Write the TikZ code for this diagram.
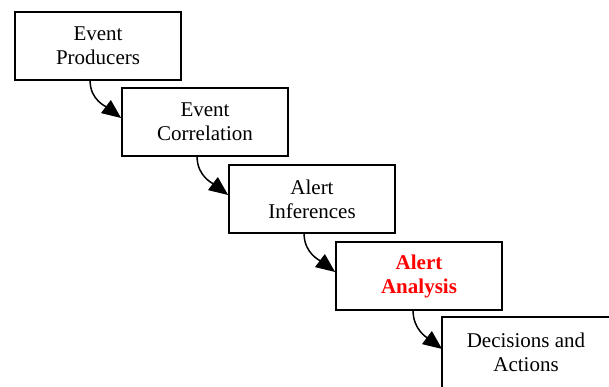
\documentclass[tikz,border=0pt]{standalone}
\usepackage{fontspec}
\setmainfont{Liberation Serif}
\usetikzlibrary{arrows.meta}
\tikzset{
  stagebox/.style={draw=black, line width=1.8pt, fill=white, minimum width=166pt, minimum height=68pt,
    align=center, inner sep=2pt, font=\fontsize{21}{24}\selectfont},
  flowarrow/.style={line width=1.5pt, -{Triangle[length=19pt,width=16pt]}}
}
\begin{document}
\begin{tikzpicture}[x=1pt,y=1pt]
\useasboundingbox (0,0) rectangle (609,386);
\clip (0,0) rectangle (609,386);
\node[stagebox] (b1) at (98,340) {Event\\Producers};
\node[stagebox] (b2) at (205,264) {Event\\Correlation};
\node[stagebox] (b3) at (312,187) {Alert\\Inferences};
\node[stagebox, text=red, font=\fontsize{21}{24}\selectfont\bfseries] (b4) at (419,110) {Alert\\Analysis};
\node[stagebox, draw=none] (b5) at (526,34) {Decisions and\\Actions};
\draw[line width=1.8pt] (b5.north west) rectangle ([shift={(10,-10)}]b5.south east);
\draw[flowarrow] ([xshift=76pt]b1.south west) to[out=-90,in=143] ([yshift=4pt]b2.west);
\draw[flowarrow] ([xshift=76pt]b2.south west) to[out=-90,in=143] ([yshift=4pt]b3.west);
\draw[flowarrow] ([xshift=76pt]b3.south west) to[out=-90,in=143] ([yshift=4pt]b4.west);
\draw[flowarrow] ([xshift=78pt]b4.south west) to[out=-90,in=143] ([yshift=3pt]b5.west);
\end{tikzpicture}
\end{document}
